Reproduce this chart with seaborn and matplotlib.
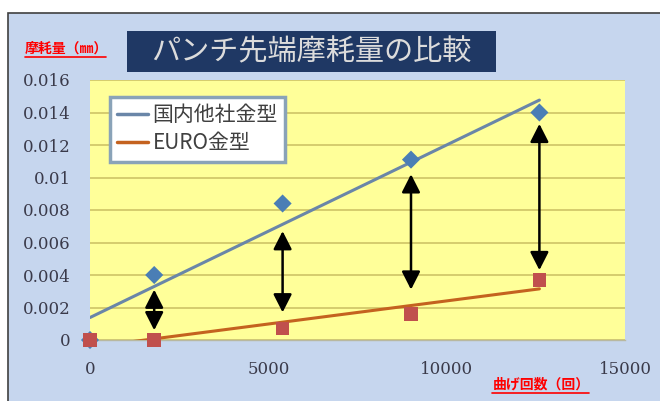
import numpy as np
import pandas as pd
import matplotlib
matplotlib.use("Agg")
import matplotlib.pyplot as plt
from matplotlib.patches import Rectangle
from matplotlib.lines import Line2D
from matplotlib.ticker import FuncFormatter
import seaborn as sns

# --- data ---
cycles = [0, 1800, 5400, 9000, 12600]
wear_domestic = [0.0, 0.0040, 0.0084, 0.0111, 0.0140]
wear_euro = [0.0, 0.0, 0.0007, 0.0016, 0.0037]

series_names = ["国内他社金型", "EURO金型"]

# double arrows showing the gap between the two trendlines
arrow_x = [1800, 5400, 9000, 12600]
arrow_low = [0.0006, 0.0017, 0.0031, 0.0043]
arrow_high = [0.0031, 0.0067, 0.0102, 0.0133]

x_ticks = [0, 5000, 10000, 15000]
y_ticks = [0, 0.002, 0.004, 0.006, 0.008, 0.01, 0.012, 0.014, 0.016]

title = "パンチ先端摩耗量の比較"
y_label = "摩耗量（㎜）"
x_label = "曲げ回数（回）"

df = pd.DataFrame({
    "cycles": cycles * 2,
    "wear": wear_domestic + wear_euro,
    "series": [series_names[0]] * len(cycles) + [series_names[1]] * len(cycles),
})

sns.set_style("white")
plt.rcParams["font.family"] = ["Noto Sans CJK JP", "DejaVu Sans"]

BG_BLUE = "#c6d6ee"
PLOT_YELLOW = "#ffff99"
GRID = "#d2c86a"
NAVY = "#1f3864"
BLUE_MK = "#4a7eb5"
BLUE_LN = "#6a86a8"
RED_MK = "#c0504d"
RED_LN = "#c4621f"

W, H = 660, 401
fig = plt.figure(figsize=(W / 100, H / 100), dpi=100)
fig.patch.set_facecolor("white")

# chart area background with its border
fig.add_artist(Rectangle((8 / W, -0.01), 1.0, 1 - 13 / H + 0.01, transform=fig.transFigure,
                         facecolor=BG_BLUE, edgecolor="#404040", lw=1.2, zorder=0))

ax = fig.add_axes([90 / W, 1 - 340 / H, 535 / W, 260 / H])
ax.set_facecolor(PLOT_YELLOW)

# trendlines
sns.regplot(data=df[df.series == series_names[0]], x="cycles", y="wear", scatter=False,
            ci=None, truncate=True, ax=ax, line_kws=dict(color=BLUE_LN, lw=2.2, zorder=3))
sns.regplot(data=df[df.series == series_names[1]], x="cycles", y="wear", scatter=False,
            ci=None, truncate=True, ax=ax, line_kws=dict(color=RED_LN, lw=2.2, zorder=3))

# markers
sns.scatterplot(data=df[df.series == series_names[0]], x="cycles", y="wear", marker="D",
                s=85, color=BLUE_MK, edgecolor="none", ax=ax, clip_on=False, zorder=4, legend=False)
sns.scatterplot(data=df[df.series == series_names[1]], x="cycles", y="wear", marker="s",
                s=95, color=RED_MK, edgecolor="none", ax=ax, clip_on=False, zorder=5, legend=False)

for xa, lo, hi in zip(arrow_x, arrow_low, arrow_high):
    ax.annotate("", xy=(xa, lo), xytext=(xa, hi),
                arrowprops=dict(arrowstyle="<|-|>,head_length=0.55,head_width=0.28",
                                mutation_scale=20, lw=1.8, color="black",
                                shrinkA=0, shrinkB=0), zorder=6)

ax.set_xlim(0, 15000)
ax.set_ylim(0, 0.016)
ax.set_xticks(x_ticks)
ax.set_yticks(y_ticks)
ax.xaxis.set_major_formatter(FuncFormatter(lambda v, p: f"{v:g}"))
ax.yaxis.set_major_formatter(FuncFormatter(lambda v, p: f"{v:g}"))
ax.yaxis.grid(True, color=GRID, lw=1.3)
ax.xaxis.grid(False)
ax.set_axisbelow(True)
ax.set_xlabel("")
ax.set_ylabel("")
for side in ["top", "right", "left"]:
    ax.spines[side].set_visible(False)
ax.spines["bottom"].set_color("#b8b8a0")
ax.spines["bottom"].set_linewidth(1.0)
ax.tick_params(axis="y", length=0, pad=14, labelsize=12, labelcolor="#3a3a4a")
ax.tick_params(axis="x", length=3, width=0.8, color="#b0b0b0", pad=12, labelsize=12,
               labelcolor="#3a3a4a")
for lab in ax.get_xticklabels() + ax.get_yticklabels():
    lab.set_family("DejaVu Serif")

handles = [Line2D([], [], color=BLUE_LN, lw=2.5), Line2D([], [], color=RED_LN, lw=2.5)]
leg = ax.legend(handles, series_names, loc="upper left", bbox_to_anchor=(0.037, 0.935),
                borderaxespad=0, frameon=True, fancybox=False, fontsize=15,
                handlelength=1.5, handletextpad=0.2, borderpad=0.35, labelspacing=0.3)
leg.get_frame().set_edgecolor("#8aa3b8")
leg.get_frame().set_linewidth(2.5)
leg.get_frame().set_facecolor("white")
leg.get_frame().set_alpha(1)
for t in leg.get_texts():
    t.set_color("#404040")

# title box
fig.add_artist(Rectangle((127 / W, 1 - 72 / H), 369 / W, 41 / H, transform=fig.transFigure,
                         facecolor=NAVY, edgecolor="none", zorder=2))
fig.text(311 / W, 1 - 52 / H, title, ha="center", va="center", fontsize=21,
         color="#dcdcdc", zorder=3)

# axis captions in red with underline
fig.text(25 / W, 1 - 49 / H, y_label, ha="left", va="center", fontsize=10,
         fontweight="bold", color="#ff0000")
fig.add_artist(Line2D([25 / W, 106 / W], [1 - 57 / H, 1 - 57 / H], transform=fig.transFigure,
                      color="#ff0000", lw=1.2))
fig.text(493 / W, 1 - 385 / H, x_label, ha="left", va="center", fontsize=10,
         fontweight="bold", color="#ff0000")
fig.add_artist(Line2D([492 / W, 589 / W], [1 - 393 / H, 1 - 393 / H], transform=fig.transFigure,
                      color="#ff0000", lw=1.2))

fig.savefig("out.png", dpi=100)
